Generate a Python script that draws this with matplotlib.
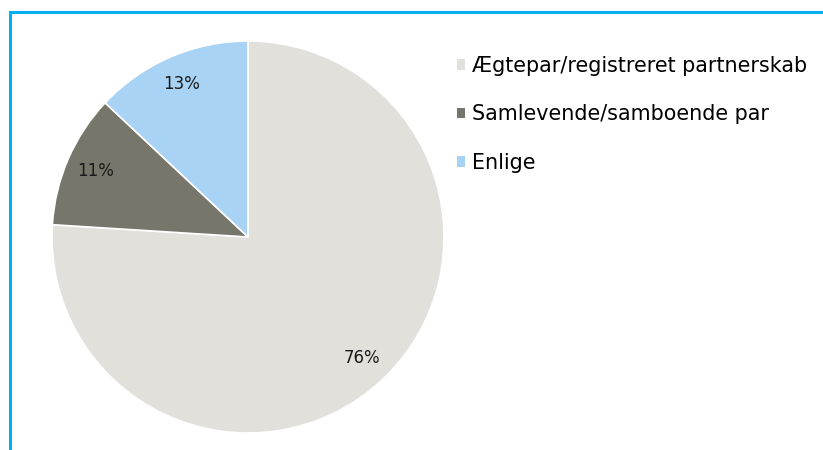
import matplotlib
matplotlib.use("Agg")
import matplotlib.pyplot as plt
from matplotlib.patches import Patch
from matplotlib.lines import Line2D

# Data
categories = ["Ægtepar/registreret partnerskab", "Samlevende/samboende par", "Enlige"]
shares = [76, 11, 13]
colors = ["#E1E0DB", "#76766A", "#A9D3F4"]

fig = plt.figure(figsize=(8.23, 4.5), dpi=100)

# pie axes: centre (248, 237) px, radius 196 px
ax = fig.add_axes([52 / 823, 17 / 450, 392 / 823, 392 / 450])
wedges, texts, autotexts = ax.pie(
    shares,
    colors=colors,
    startangle=90,
    counterclock=False,
    autopct="%d%%",
    pctdistance=0.85,
    wedgeprops=dict(edgecolor="white", linewidth=1.2),
    textprops=dict(fontsize=12, color="#1a1a1a"),
)
ax.set_xlim(-1, 1)
ax.set_ylim(-1, 1)
ax.set_aspect("equal")

# legend
handles = [Patch(facecolor=c, edgecolor="none") for c in colors]
fig.legend(
    handles, categories,
    loc="upper left", bbox_to_anchor=(457 / 823, 1 - 56 / 450),
    frameon=False, fontsize=14.85,
    handlelength=0.4, handleheight=0.4, handletextpad=0.35,
    labelspacing=1.38, borderaxespad=0, borderpad=0,
)

# cyan frame (top and left edges)
lc = "#00B0F0"
fig.add_artist(Line2D([9.5 / 823, 1.0], [1 - 11.5 / 450, 1 - 11.5 / 450], color=lc, linewidth=2.2, transform=fig.transFigure))
fig.add_artist(Line2D([9.5 / 823, 9.5 / 823], [0.0, 1 - 11.5 / 450], color=lc, linewidth=2.2, transform=fig.transFigure))

fig.savefig("out.png", dpi=100)
